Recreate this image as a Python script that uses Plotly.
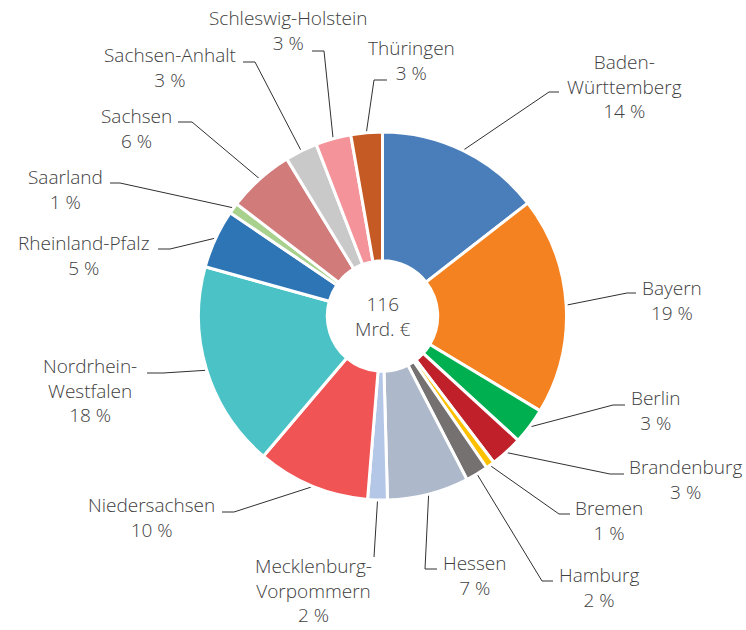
import math
import plotly.graph_objects as go

# Ausgaben je Bundesland in Mrd. € (Summe 116)
laender = ['Baden-Württemberg', 'Bayern', 'Berlin', 'Brandenburg', 'Bremen',
           'Hamburg', 'Hessen', 'Mecklenburg-Vorpommern', 'Niedersachsen',
           'Nordrhein-Westfalen', 'Rheinland-Pfalz', 'Saarland', 'Sachsen',
           'Sachsen-Anhalt', 'Schleswig-Holstein', 'Thüringen']
werte = [16.8, 22.2, 3.7, 3.3, 0.9, 2.3, 8.3, 2.0, 11.5, 21.0, 6.0, 1.1,
         6.8, 3.3, 3.6, 3.2]
farben = ['#4A7EBB', '#F58220', '#00B050', '#C0202A', '#FFC000', '#767171',
          '#ADB9CA', '#B4C7E7', '#F05454', '#4BC3C6', '#2E75B6', '#A9D18E',
          '#D17B7B', '#C9C9C9', '#F4939A', '#C55A24']
umbruch = {'Baden-Württemberg', 'Mecklenburg-Vorpommern', 'Nordrhein-Westfalen'}

# label layout in page pixels: (text x, text y, elbow x, elbow y, end x)
W, H = 746, 630
cx, cy, R = 382.5, 316, 184
label_pos = [
    (624, 86, 549, 92, 559),
    (672, 300, 627, 293, 636),
    (656, 410, 613, 405, 625),
    (685, 479, 610, 474, 624),
    (609, 520, 559, 514, 570),
    (599, 587, 542, 581, 553),
    (474, 575, 425, 569, 437),
    (313, 590, 374, 557, 374),
    (151, 517, 234, 512, 222),
    (90, 390, 163, 373, 147),
    (83, 255, 170, 249, 158),
    (65, 189, 120, 183, 110),
    (136, 128, 192, 122, 178),
    (170, 67, 255, 62, 243),
    (288, 30, 324, 51, 312),
    (411, 60, 374, 80, 387),
]

total = sum(werte)
fig = go.Figure()

fig.add_trace(go.Pie(
    labels=laender, values=werte, sort=False, direction='clockwise',
    rotation=0, hole=0.3, textinfo='none', hoverinfo='label+percent',
    marker=dict(colors=farben, line=dict(color='white', width=3)),
    domain=dict(x=[(cx - R) / W, (cx + R) / W],
                y=[(H - cy - R) / H, (H - cy + R) / H]),
    showlegend=False,
))

schrift = dict(family='Open Sans, Lato, sans-serif', size=19, color='#404040',
               weight=300)
kum = 0
for name, v, pos in zip(laender, werte, label_pos):
    mitte = (kum + v / 2) / total * 2 * math.pi
    kum += v
    sx = cx + (R + 1) * math.sin(mitte)
    sy = cy - (R + 1) * math.cos(mitte)
    tx, ty, ex, ey, ux = pos
    fig.add_trace(go.Scatter(
        x=[sx, ex, ux], y=[sy, ey, ey], mode='lines',
        line=dict(color='#303030', width=1), hoverinfo='skip',
        showlegend=False))
    text = name.replace('-', '-<br>') if name in umbruch else name
    fig.add_annotation(x=tx, y=ty, xref='x', yref='y', showarrow=False,
                       text='{}<br>{} %'.format(text, round(v / total * 100)),
                       align='center', font=schrift)

fig.add_annotation(x=cx, y=cy, xref='x', yref='y', showarrow=False,
                   text='{:.0f}<br>Mrd. €'.format(total), align='center',
                   font=schrift)

fig.update_xaxes(range=[0, W], visible=False, fixedrange=True)
fig.update_yaxes(range=[H, 0], visible=False, fixedrange=True)
fig.update_layout(width=W, height=H, margin=dict(l=0, r=0, t=0, b=0),
                  paper_bgcolor='white', plot_bgcolor='white')
fig.write_html('out.html', config={'displayModeBar': False},
               post_script="document.body.style.margin='0';")
